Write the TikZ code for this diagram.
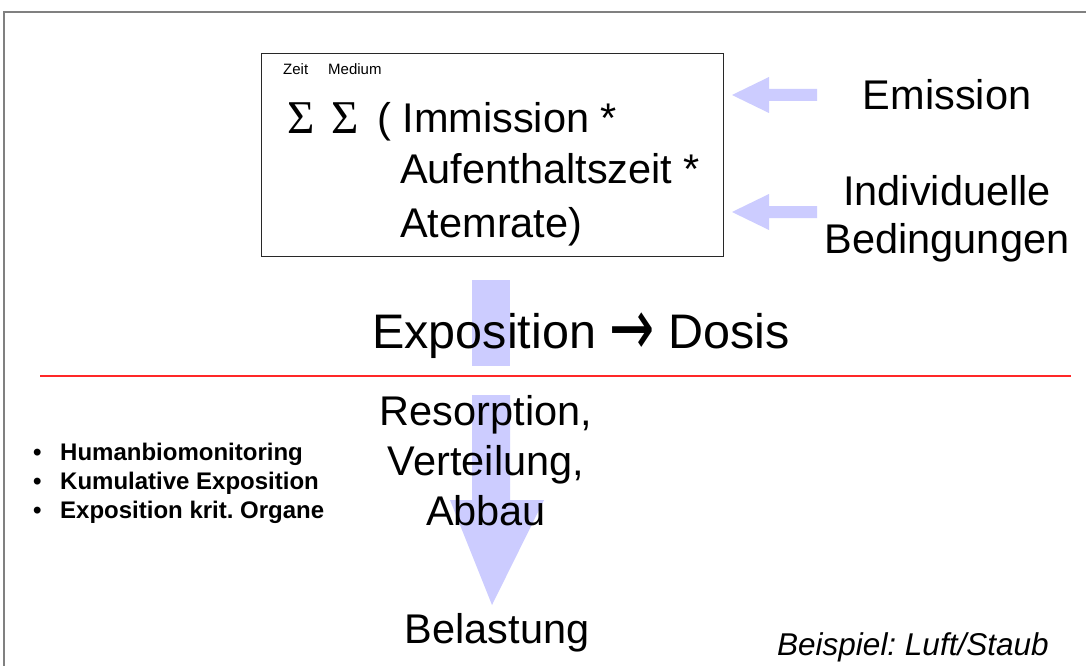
\documentclass[tikz,border=0pt]{standalone}
\usepackage{fontspec}
\setmainfont{Liberation Sans}
\newfontfamily\sigmafont{Liberation Serif}
\newfontfamily\arrowfont{DejaVu Sans}
\frenchspacing
\begin{document}
\begin{tikzpicture}[x=1pt,y=-1pt,
  txt/.style={inner sep=0pt,text=black},
  big/.style={txt,font=\fontsize{41.5}{50}\selectfont},
  huge/.style={txt,font=\fontsize{48.5}{58}\selectfont},
  tiny/.style={txt,font=\fontsize{15}{18}\selectfont},
  bullet/.style={txt,font=\bfseries\fontsize{24}{29}\selectfont},
  flow/.style={fill={rgb,255:red,204;green,204;blue,255},draw=none},
  frameline/.style={draw={rgb,255:red,128;green,128;blue,128},line width=1.5pt}]
\useasboundingbox (0,0) rectangle (1086,666);
\fill[white] (0,0) rectangle (1086,666);

% slide frame
\draw[frameline] (1086,12) -- (4,12) -- (4,666);

% downward flow: exposure -> burden
\fill[flow] (472,280) rectangle (510,366);
\fill[flow] (472,395) -- (510,395) -- (510,500) -- (544,500) -- (492,605)
  -- (450,500) -- (472,500) -- cycle;

% inputs into the formula
\fill[flow] (732,95) -- (769,77) -- (769,89) -- (817,89) -- (817,101)
  -- (769,101) -- (769,113) -- cycle;
\fill[flow] (732,212) -- (769,194) -- (769,206) -- (817,206) -- (817,218)
  -- (769,218) -- (769,230) -- cycle;

% formula box
\node[draw={rgb,255:red,40;green,40;blue,40},line width=1pt,
  minimum width=462pt,minimum height=202pt,inner sep=0pt] (box) at (492,155) {};
\node[tiny,anchor=base west] (zeit) at (283,75) {Zeit};
\node[tiny,anchor=base west] (medium) at (328,75) {Medium};
\node[txt,font=\sigmafont\fontsize{47}{55}\selectfont,anchor=base west] (sum1) at (287,133) {Σ};
\node[txt,font=\sigmafont\fontsize{47}{55}\selectfont,anchor=base west] (sum2) at (331,133) {Σ};
\node[big,anchor=base west] (imm) at (377,132) {( Immission *};
\node[big,anchor=base west] (auf) at (400,183) {Aufenthaltszeit *};
\node[big,anchor=base west] (atem) at (400,237) {Atemrate)};

% influences
\node[big,anchor=base] (emission) at (947,110) {Emission};
\node[big,anchor=base] (indiv) at (947,205) {Individuelle};
\node[big,anchor=base] (beding) at (947,253) {Bedingungen};

% central statement
\node[huge,anchor=base] (expo) at (581,348)
  {Exposition {\arrowfont\fontsize{54}{58}\selectfont\raisebox{-7pt}{\scalebox{1}[1.5]{→}}} Dosis};

% separator
\draw[draw={rgb,255:red,255;green,40;blue,40},line width=2.6pt] (40,376) -- (1071,376);

\node[big,anchor=base] (res) at (486,425) {Resorption,};
\node[big,anchor=base] (vert) at (486,475) {Verteilung,};
\node[big,anchor=base] (abbau) at (486,525) {Abbau};
\node[big,anchor=base] (belast) at (497,643) {Belastung};

% list of approaches
\node[bullet,anchor=base west] (b1) at (33,460) {•};
\node[bullet,anchor=base west] (b2) at (33,489) {•};
\node[bullet,anchor=base west] (b3) at (33,518) {•};
\node[bullet,anchor=base west] (l1) at (60,460) {Humanbiomonitoring};
\node[bullet,anchor=base west] (l2) at (60,489) {Kumulative Exposition};
\node[bullet,anchor=base west] (l3) at (60,518) {Exposition krit. Organe};

\node[txt,font=\itshape\fontsize{31.5}{38}\selectfont,anchor=base west] (beispiel) at (777,655) {Beispiel: Luft/Staub};
\end{tikzpicture}
\end{document}
